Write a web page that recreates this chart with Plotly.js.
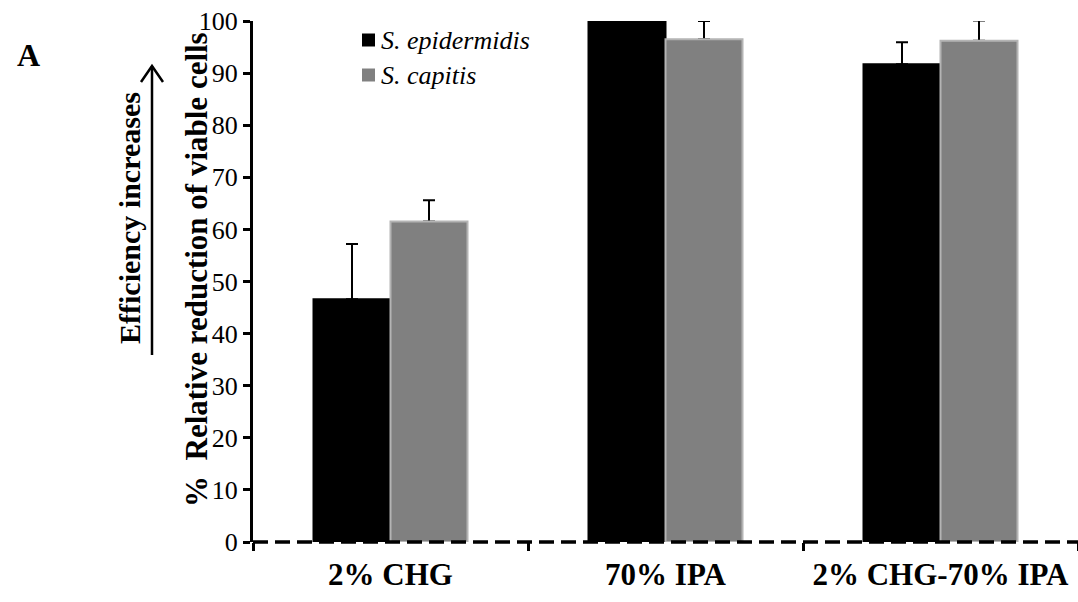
<!DOCTYPE html>
<html>
<head>
<meta charset="utf-8">
<script src="https://cdn.plot.ly/plotly-3.0.1.min.js"></script>
<style>html,body{margin:0;padding:0;background:#fff;}#chart{width:1078px;height:602px;}</style>
</head>
<body>
<div id="chart"></div>
<script>
const categories = ["2% CHG", "70% IPA", "2% CHG-70% IPA"];
const seriesNames = ["S. epidermidis", "S. capitis"];
const seriesColors = ["#000000", "#808080"];
const epidermidis = [46.6, 100, 91.7];
const epidermidisErr = [10.6, 0, 4.2];
const capitis = [61.5, 96.5, 96.2];
const capitisErr = [4.1, 3.5, 3.9];
const yTicks = [0, 10, 20, 30, 40, 50, 60, 70, 80, 90, 100];

const serif = "Liberation Serif";
const zeros = categories.map(() => 0);

function barTrace(name, y, err, color, edge, group, withErr) {
  const t = {
    type: "bar", name: name, x: categories, y: y, offsetgroup: group,
    marker: {color: color, line: {color: edge, width: withErr ? 0 : 2}},
    showlegend: false, cliponaxis: false, hoverinfo: "skip"
  };
  if (withErr) {
    t.error_y = {type: "data", symmetric: false, array: err, arrayminus: zeros,
      color: "#000000", thickness: 2, width: 6};
  }
  return t;
}

const traces = [
  barTrace(seriesNames[0], epidermidis, epidermidisErr, seriesColors[0], "#000000", "a", true),
  barTrace(seriesNames[1], capitis, capitisErr, seriesColors[1], "#b4b4b4", "b", true),
  barTrace(seriesNames[0], epidermidis, epidermidisErr, seriesColors[0], "#000000", "a", false),
  barTrace(seriesNames[1], capitis, capitisErr, seriesColors[1], "#b4b4b4", "b", false)
];

const px = v => (v - 253) / 825;
const py = v => (542 - v) / 521;

const legendRows = [40, 75];
const legendShapes = seriesNames.map((n, i) => ({
  type: "rect", xref: "paper", yref: "paper",
  x0: px(362), x1: px(375), y0: py(legendRows[i] + 6.5), y1: py(legendRows[i] - 6.5),
  fillcolor: seriesColors[i], line: {width: 0}
}));
const legendTexts = seriesNames.map((n, i) => ({
  xref: "paper", yref: "paper", x: px(379), y: py(legendRows[i]), xanchor: "left", yanchor: "middle",
  text: "<i>" + n + "</i>", showarrow: false, font: {family: serif, size: 26, color: "#000"}
}));

const layout = {
  width: 1078, height: 602,
  margin: {l: 253, r: 0, t: 21, b: 60},
  paper_bgcolor: "#ffffff", plot_bgcolor: "#ffffff",
  barmode: "group", bargap: 0.44, bargroupgap: 0,
  showlegend: false,
  xaxis: {
    tickson: "boundaries", ticks: "outside", ticklen: 8, tickwidth: 3, tickcolor: "#000",
    showline: false, showgrid: false, zeroline: false, ticklabelstandoff: 11,
    tickfont: {family: serif, size: 31, color: "#000", weight: "bold"}
  },
  yaxis: {
    range: [0, 100], tickvals: yTicks, ticktext: yTicks.map(String),
    showline: true, linewidth: 3, linecolor: "#000",
    ticks: "outside", ticklen: 7, tickwidth: 3, tickcolor: "#000",
    showgrid: false, zeroline: false,
    tickfont: {family: serif, size: 26, color: "#000"}
  },
  shapes: [
    {type: "line", xref: "paper", yref: "paper", x0: 0, x1: 1, y0: 0, y1: 0,
     line: {color: "#000", width: 3.5, dash: "15px,7px"}, layer: "above"},
    {type: "line", xref: "paper", yref: "paper", x0: px(152), x1: px(152), y0: py(355), y1: py(66),
     line: {color: "#000", width: 2.5}},
    {type: "path", xref: "paper", yref: "paper",
     path: "M " + px(141) + "," + py(82) + " L " + px(152) + "," + py(66) + " L " + px(163) + "," + py(82),
     line: {color: "#000", width: 2.5}}
  ].concat(legendShapes),
  annotations: [
    {xref: "paper", yref: "paper", x: px(196), y: py(270), xanchor: "center", yanchor: "middle",
     text: "<b>%  Relative reduction of viable cells</b>",
     textangle: -90, showarrow: false, font: {family: serif, size: 31, color: "#000"}},
    {xref: "paper", yref: "paper", x: px(130), y: py(218), xanchor: "center", yanchor: "middle",
     text: "<b>Efficiency increases</b>",
     textangle: -90, showarrow: false, font: {family: serif, size: 30, color: "#000"}},
    {xref: "paper", yref: "paper", x: px(28), y: py(55), xanchor: "center", yanchor: "middle",
     text: "<b>A</b>", showarrow: false, font: {family: serif, size: 32, color: "#000"}}
  ].concat(legendTexts)
};

Plotly.newPlot("chart", traces, layout, {displayModeBar: false, staticPlot: true});
</script>
</body>
</html>
